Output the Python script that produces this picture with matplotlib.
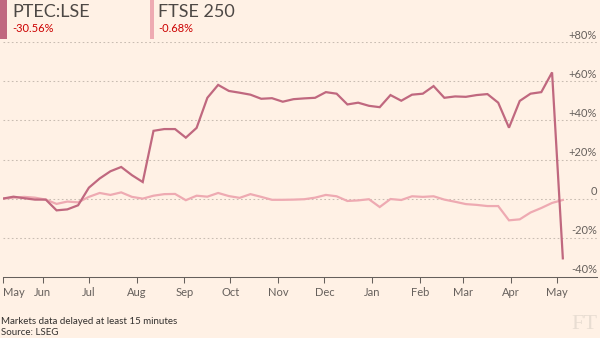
import matplotlib
matplotlib.use("Agg")
import matplotlib.pyplot as plt
import matplotlib.transforms as mtransforms
from matplotlib.patches import Rectangle
import pandas as pd

# weekly closes, % change since start
dates = pd.date_range("2024-05-06", periods=53, freq="7D")
ptec = [0, 1.0, 0.2, -0.5, -0.5, -6.0, -5.5, -3.4, 5.6, 10.3,
        14.0, 16.2, 12.0, 8.5, 34.7, 35.6, 35.6, 31.2, 36.2, 51.6,
        58.2, 55.1, 54.2, 53.2, 51.1, 51.4, 49.6, 50.9, 51.3, 51.6,
        54.5, 53.7, 48.2, 49.1, 47.5, 46.8, 53.0, 50.1, 53.2, 53.7,
        57.6, 51.6, 52.3, 52.1, 53.0, 53.5, 49.1, 36.3, 50.0, 53.7,
        54.5, 64.6, -30.56]
ftse = [0, 0.5, 0.9, 0.5, -0.5, -2.7, -1.5, -1.9, 0.9, 2.9,
        1.9, 3.2, 0.9, 0, 1.5, 2.3, 2.4, -0.8, 1.5, 1.0,
        2.9, 1.3, 0.4, 2.3, 0.9, -0.6, -0.6, -0.5, -0.3, 0.5,
        1.9, 1.2, -1.2, -0.9, -0.3, -4.3, -0.2, -0.7, 1.2, 0.9,
        1.2, -0.5, -1.6, -2.8, -3.2, -3.8, -3.8, -11.1, -10.6, -7.1,
        -4.8, -2.2, -0.68]
names = ["PTEC:LSE", "FTSE 250"]
changes = ["-30.56%", "-0.68%"]
yticks = [80, 60, 40, 20, 0, -20, -40]
ylabels = ["+80%", "+60%", "+40%", "+20%", "0", "-20%", "-40%"]
month_ticks = pd.to_datetime(["2024-05-06", "2024-06-01", "2024-07-01", "2024-08-01",
                              "2024-09-01", "2024-10-01", "2024-11-01", "2024-12-01",
                              "2025-01-01", "2025-02-01", "2025-03-01", "2025-04-01",
                              "2025-05-01"])
month_labels = ["May", "Jun", "Jul", "Aug", "Sep", "Oct", "Nov", "Dec",
                "Jan", "Feb", "Mar", "Apr", "May"]

bg = "#fff1e5"
c_ptec = "#c0687f"
c_ftse = "#eeaab2"
grey = "#66605c"

plt.rcParams["font.family"] = ["Lato", "DejaVu Sans"]

W, H = 600, 338
fig = plt.figure(figsize=(6, 3.38), dpi=100, facecolor=bg)
ax = fig.add_axes([2.7 / W, 1 - 276.8 / H, (597 - 2.7) / W, 234.5 / H])
ax.set_facecolor(bg)

ax.plot(dates, ftse, color=c_ftse, lw=1.6, solid_joinstyle="miter")
ax.plot(dates, ptec, color=c_ptec, lw=1.6, solid_joinstyle="miter")

start = dates[0]
ax.set_xlim(start, start + pd.Timedelta(days=386.2))
ax.set_ylim(-40, 80)

# dotted gridlines
for v in yticks[:-1]:
    ax.axhline(v, color="#c9bdb2", lw=0.75, dashes=(1.6, 2.4), zorder=0)

# y labels sitting above the gridlines, right aligned
off = mtransforms.offset_copy(ax.get_yaxis_transform(), fig=fig, x=0, y=4.9, units="points")
for v, lab in zip(yticks, ylabels):
    ax.text(1.0, v, lab, transform=off, ha="right", va="center",
            fontsize=8, color=grey)

ax.set_yticks([])
for s in ["left", "right", "top"]:
    ax.spines[s].set_visible(False)
ax.spines["bottom"].set_color(grey)
ax.spines["bottom"].set_linewidth(0.75)

ax.set_xticks(month_ticks)
ax.set_xticklabels(month_labels)
ax.tick_params(axis="x", length=4, width=0.75, color=grey, labelcolor=grey,
               labelsize=8, pad=3.5)
ax.get_xticklabels()[0].set_ha("left")

# header legend
fig.add_artist(Rectangle((0, 1 - 39 / H), 7 / W, 39 / H, transform=fig.transFigure,
                         color=c_ptec, lw=0))
fig.add_artist(Rectangle((150 / W, 1 - 39 / H), 4 / W, 39 / H, transform=fig.transFigure,
                         color=c_ftse, lw=0))
for x0, name, ch in zip([12, 158], names, changes):
    fig.text(x0 / W, 1 - 12 / H, name, fontsize=13, color="#4d4845", va="center")
    fig.text(x0 / W, 1 - 28.5 / H, ch, fontsize=8, color="#cc0000", va="center")

# footer
fig.text(1 / W, 1 - 321.7 / H, "Markets data delayed at least 15 minutes",
         fontsize=7, color="#33302e", va="center")
fig.text(1 / W, 1 - 332.7 / H, "Source: LSEG", fontsize=7, color="#33302e", va="center")
fig.text(597 / W, 1 - 334 / H, "FT", fontsize=16, color="#e8ddd2",
         family="Liberation Serif", ha="right", va="bottom")

fig.savefig("out.png", dpi=100, facecolor=bg)
